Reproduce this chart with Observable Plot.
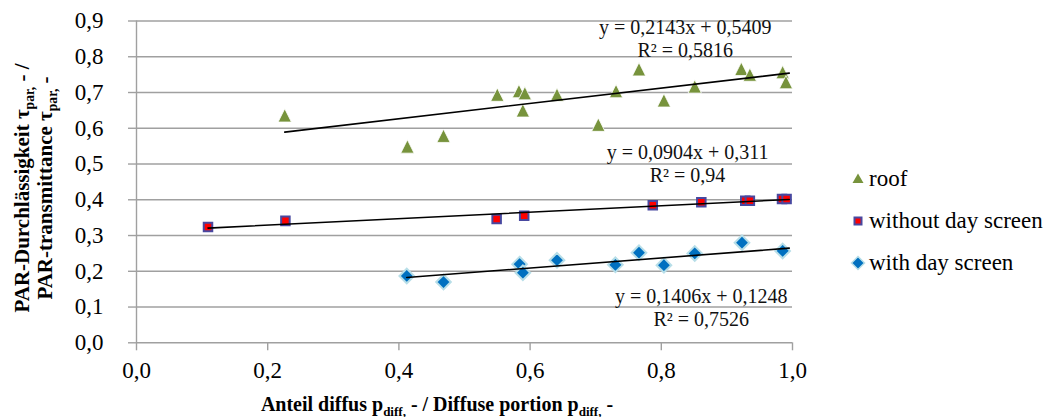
<!DOCTYPE html>
<html><head><meta charset="utf-8">
<script src="https://cdn.jsdelivr.net/npm/d3@7"></script>
<script src="https://cdn.jsdelivr.net/npm/@observablehq/plot@0.6"></script>
<style>
body{margin:0;background:#fff;}
#wrap{position:relative;width:1053px;height:417px;font-family:"Liberation Serif","Times New Roman",serif;color:#000;}
#wrap svg.plot{position:absolute;left:0;top:0;}
#ytitle{position:absolute;left:34px;top:188px;transform:translate(-50%,-50%) rotate(-90deg);font-weight:bold;font-size:21px;line-height:23px;text-align:center;white-space:nowrap;}
#xtitle{position:absolute;left:437px;top:394px;transform:translateX(-50%);font-weight:bold;font-size:20px;line-height:20px;white-space:nowrap;}
.sub{font-size:65%;position:relative;top:0.35em;line-height:0;}
.lg{position:absolute;left:850px;height:28px;display:flex;align-items:center;font-size:23px;line-height:28px;white-space:nowrap;}
.lg svg{width:16px;height:16px;margin-right:3px;}
</style>
</head><body>
<div id="wrap">
  <div id="ytitle">PAR-Durchlässigkeit τ<span class="sub">par,</span> - /<br>PAR-transmittance τ<span class="sub">par,</span> -</div>
  <div id="xtitle">Anteil diffus p<span class="sub">diff,</span> - / Diffuse portion p<span class="sub">diff,</span> -</div>
</div>
<script>
// ---- data ----
const xTicks = [0, 0.2, 0.4, 0.6, 0.8, 1.0];
const yTicks = [0, 0.1, 0.2, 0.3, 0.4, 0.5, 0.6, 0.7, 0.8, 0.9];

const roofX = [0.226, 0.413, 0.468, 0.550, 0.583, 0.592, 0.589, 0.641, 0.704, 0.731, 0.766, 0.804, 0.851, 0.922, 0.935, 0.985, 0.990];
const roofY = [0.636, 0.549, 0.579, 0.694, 0.704, 0.698, 0.650, 0.694, 0.610, 0.704, 0.765, 0.678, 0.717, 0.766, 0.750, 0.757, 0.729];

const withoutX = [0.109, 0.227, 0.549, 0.591, 0.787, 0.861, 0.928, 0.935, 0.984, 0.991];
const withoutY = [0.324, 0.341, 0.346, 0.355, 0.385, 0.393, 0.397, 0.397, 0.402, 0.402];

const withX = [0.412, 0.468, 0.584, 0.589, 0.641, 0.730, 0.766, 0.804, 0.851, 0.923, 0.985];
const withY = [0.187, 0.170, 0.220, 0.196, 0.231, 0.218, 0.252, 0.217, 0.250, 0.280, 0.257];

const seriesNames = ["roof", "without day screen", "with day screen"];
const trendSlopes = [0.2143, 0.0904, 0.1406];
const trendIntercepts = [0.5409, 0.311, 0.1248];
const trendR2 = [0.5816, 0.94, 0.7526];
const trendXStart = [0.226, 0.109, 0.412];
const trendXEnd = [0.995, 0.995, 0.995];

// ---- layout constants (not data) ----
const eqAnchorX = [0.8365, 0.840, 0.861];
const eqAnchorY = [0.853, 0.502, 0.100];

const C = {
  grid: "#a0a0a0",
  roof: "#77933c",
  sqFill: "#ff0000", sqStroke: "#4848a0",
  diaFill: "#0070c0", diaStroke: "#b7dee8"
};

const comma = v => String(v).replace(".", ",");
const pts = (xs, ys) => xs.map((x, i) => ({x, y: ys[i]}));
const roofPts = pts(roofX, roofY);
const withoutPts = pts(withoutX, withoutY);
const withPts = pts(withX, withY);
const trend = seriesNames.flatMap((s, i) => [trendXStart[i], trendXEnd[i]].map(x => ({series: s, x, y: trendSlopes[i] * x + trendIntercepts[i]})));
const eqs = seriesNames.map((s, i) => ({
  series: s, x: eqAnchorX[i], y: eqAnchorY[i],
  text: `y = ${comma(trendSlopes[i])}x + ${comma(trendIntercepts[i])}\nR² = ${comma(trendR2[i])}`
}));

const triSym = {draw(ctx, size) { const s = Math.sqrt(size); ctx.moveTo(0, -s / 2); ctx.lineTo(s / 2, s / 2); ctx.lineTo(-s / 2, s / 2); ctx.closePath(); }};

const chart = Plot.plot({
  width: 1053, height: 417,
  marginLeft: 136, marginRight: 261, marginTop: 20.5, marginBottom: 74.7,
  style: {fontFamily: '"Liberation Serif","Times New Roman",serif', fontSize: "23px", background: "transparent"},
  x: {domain: [0, 1]},
  y: {domain: [0, 0.9]},
  marks: [
    Plot.gridY(yTicks, {stroke: C.grid, strokeOpacity: 1, strokeWidth: 1.4}),
    Plot.ruleX([0], {stroke: C.grid, strokeWidth: 1.4}),
    Plot.axisY({ticks: yTicks, tickSize: 8, tickPadding: 25, stroke: C.grid, strokeWidth: 1.4, fill: "#000", fontSize: 23, label: null, tickFormat: d => d.toFixed(1).replace(".", ",")}),
    Plot.axisX({ticks: xTicks, tickSize: 8, tickPadding: 11, stroke: C.grid, strokeWidth: 1.4, fill: "#000", fontSize: 23, label: null, tickFormat: d => d.toFixed(1).replace(".", ",")}),
    Plot.dot(roofPts, {x: "x", y: "y", symbol: triSym, r: 7.5, fill: C.roof, stroke: "#fff", strokeWidth: 0.8}),
    Plot.dot(withoutPts, {x: "x", y: "y", symbol: "square", r: 4.8, fill: C.sqFill, stroke: C.sqStroke, strokeWidth: 2}),
    Plot.dot(withPts, {x: "x", y: "y", symbol: "diamond2", r: 6.6, fill: C.diaFill, stroke: C.diaStroke, strokeWidth: 2}),
    Plot.line(trend, {x: "x", y: "y", z: "series", stroke: "#000", strokeWidth: 1.6}),
    Plot.text(eqs, {x: "x", y: "y", text: "text", fontSize: 20, lineHeight: 1.15, lineAnchor: "middle", textAnchor: "middle", fill: "#111"})
  ]
});
chart.classList.add("plot");
document.getElementById("wrap").appendChild(chart);

// legend (HTML, right side)
const legendRows = [
  {name: seriesNames[0], cy: 179, svg: `<path d="M8,2.5 L13.5,12 L2.5,12 Z" fill="${C.roof}"/>`},
  {name: seriesNames[1], cy: 221, svg: `<rect x="4.5" y="4.5" width="7" height="7" fill="${C.sqFill}" stroke="${C.sqStroke}" stroke-width="2"/>`},
  {name: seriesNames[2], cy: 263, svg: `<path d="M8,1.5 L14.5,8 L8,14.5 L1.5,8 Z" fill="${C.diaFill}" stroke="${C.diaStroke}" stroke-width="1.5"/>`}
];
for (const r of legendRows) {
  const d = document.createElement("div");
  d.className = "lg";
  d.style.top = (r.cy - 14) + "px";
  d.innerHTML = `<svg viewBox="0 0 16 16">${r.svg}</svg><span>${r.name}</span>`;
  document.getElementById("wrap").appendChild(d);
}
</script>
</body></html>
